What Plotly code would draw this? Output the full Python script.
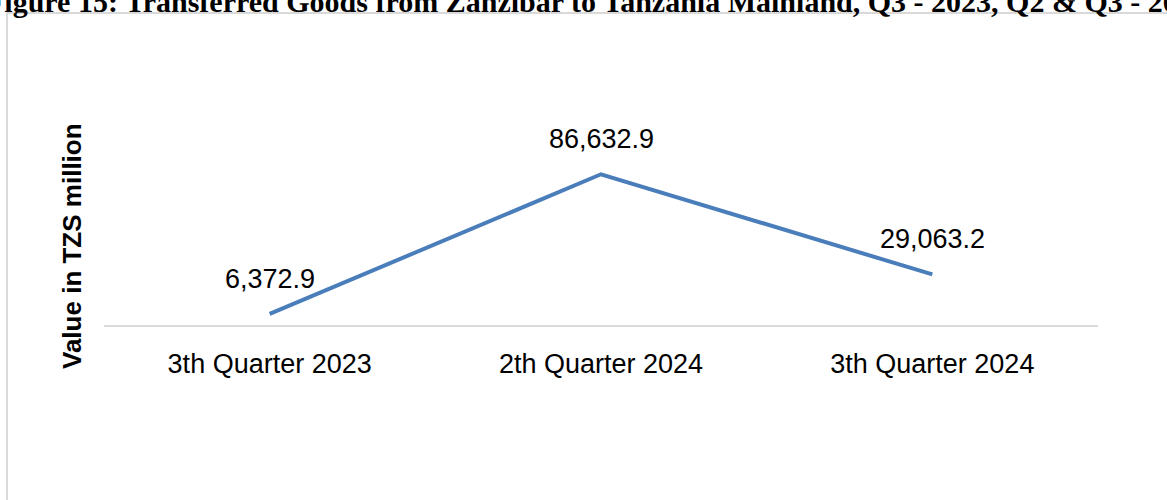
import plotly.graph_objects as go

# ---- data ----
categories = ["3th Quarter 2023", "2th Quarter 2024", "3th Quarter 2024"]
values = [6372.9, 86632.9, 29063.2]
value_labels = ["6,372.9", "86,632.9", "29,063.2"]
title_text = "Figure 15: Transferred Goods from Zanzibar to Tanzania Mainland, Q3 - 2023, Q2 & Q3 - 2024"
y_title = "Value in TZS million"

# ---- layout geometry (pixels) ----
W, H = 1167, 500
L, R, T, B = 104, 69, 151, 175
PW, PH = W - L - R, H - T - B

def px_x(px):
    return (px - L) / PW

def px_y(py):
    return (H - B - py) / PH

FONT = "Liberation Sans, Arial, sans-serif"

fig = go.Figure()
fig.add_trace(go.Scatter(
    x=categories, y=values, mode="lines",
    line=dict(color="#4A7EBB", width=4),
    hoverinfo="skip", showlegend=False,
))

annotations = []
for c, v, t in zip(categories, values, value_labels):
    annotations.append(dict(
        x=c, y=v, xref="x", yref="y", text=t, showarrow=False,
        yanchor="bottom", xanchor="center", yshift=18,
        font=dict(family=FONT, size=27, color="#000000"),
    ))

annotations.append(dict(
    x=px_x(72), y=px_y(246), xref="paper", yref="paper",
    text="<b>" + y_title + "</b>", textangle=-90, showarrow=False,
    xanchor="center", yanchor="middle",
    font=dict(family=FONT, size=26, color="#000000"),
))

annotations.append(dict(
    x=px_x(-16), y=px_y(20), xref="paper", yref="paper",
    text="<b>" + title_text + "</b>", showarrow=False,
    xanchor="left", yanchor="bottom",
    font=dict(family="Liberation Serif, Times New Roman, serif", size=30, color="#000000"),
))

fig.update_layout(
    width=W, height=H,
    margin=dict(l=L, r=R, t=T, b=B, autoexpand=False),
    paper_bgcolor="#FFFFFF", plot_bgcolor="#FFFFFF",
    showlegend=False,
    annotations=annotations,
    shapes=[dict(
        type="rect", xref="paper", yref="paper",
        x0=px_x(7), x1=px_x(1190), y0=px_y(13), y1=px_y(520),
        line=dict(color="#D9D9D9", width=2), fillcolor="rgba(0,0,0,0)", layer="below",
    )],
    xaxis=dict(
        type="category", range=[-0.5, 2.5], showgrid=False, zeroline=False,
        showline=True, linecolor="#D9D9D9", linewidth=2,
        ticks="", ticklabelstandoff=14,
        tickfont=dict(family=FONT, size=27, color="#000000"),
    ),
    yaxis=dict(
        range=[0, 100000], visible=False, showgrid=False, zeroline=False,
    ),
)

fig.write_html("out.html", config={"displayModeBar": False},
               post_script="document.body.style.margin='0';")
